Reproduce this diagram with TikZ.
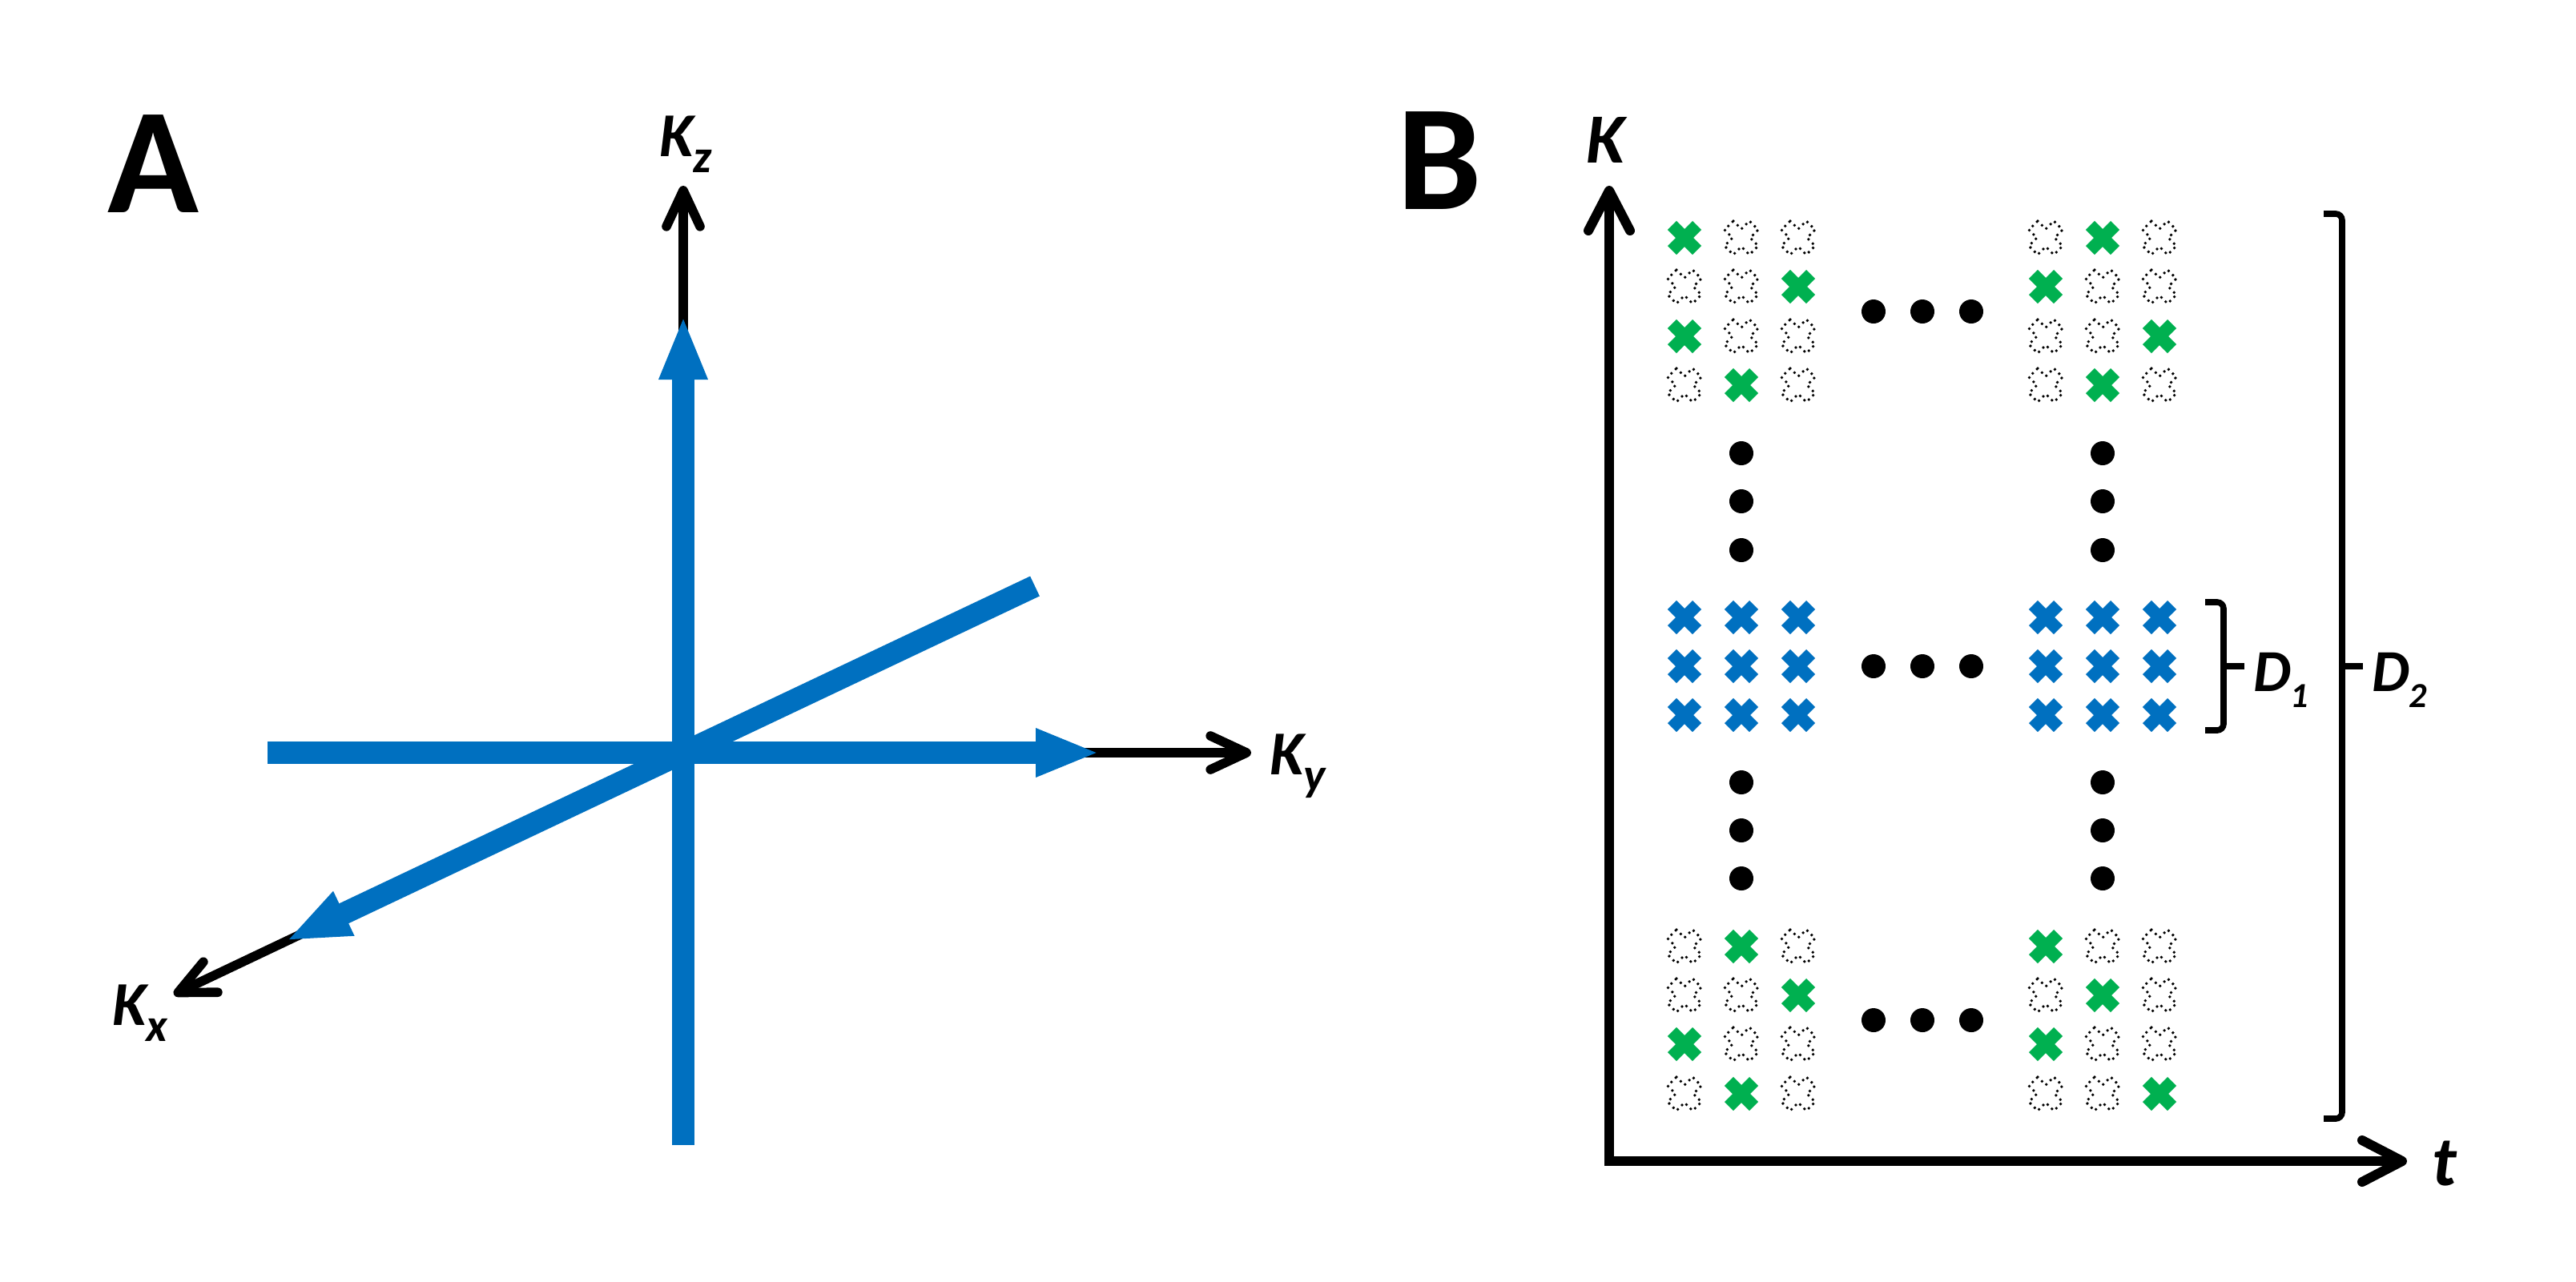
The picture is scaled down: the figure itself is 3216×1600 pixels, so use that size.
\documentclass[tikz,border=0pt]{standalone}
\usepackage{fontspec}
\setmainfont{Carlito}
\usetikzlibrary{arrows.meta}
\definecolor{xblue}{HTML}{0070C0}
\definecolor{xgreen}{HTML}{00B050}
\newcommand\sublabel[4]{{\fontsize{#3}{#3}\selectfont\bfseries\itshape #1}\raisebox{-5pt}{\fontsize{#4}{#4}\selectfont\bfseries\itshape #2}}
\newcommand\crow[5]{%
  \pic[#3] at (#1,#2) {xshape};
  \pic[#4] at ({#1+71},#2) {xshape};
  \pic[#5] at ({#1+142},#2) {xshape};}
\begin{document}
\begin{tikzpicture}[x=0.25pt,y=-0.25pt,
  xshape/.pic={\path[pic actions, rotate=45]
     (1.95pt,5.5pt) -- (1.95pt,1.95pt) -- (5.5pt,1.95pt) -- (5.5pt,-1.95pt)
     -- (1.95pt,-1.95pt) -- (1.95pt,-5.5pt) -- (-1.95pt,-5.5pt) -- (-1.95pt,-1.95pt)
     -- (-5.5pt,-1.95pt) -- (-5.5pt,1.95pt) -- (-1.95pt,1.95pt) -- (-1.95pt,5.5pt) -- cycle;},
  gx/.style={fill=xgreen},
  bx/.style={fill=xblue},
  ox/.style={draw=black, line width=0.95pt, dash pattern=on 0pt off 1.9pt, line cap=round},
  bluearrow/.style={draw=xblue, line width=6.875pt, -{Triangle[length=20pt,width=13.75pt]}},
  blackaxis/.style={draw=black, line width=2.9pt, -{Straight Barb[length=11.25pt,width=10.5pt,round]}},
  baxis/.style={draw=black, line width=3pt, {Straight Barb[length=12.5pt,width=13pt,round]}-{Straight Barb[length=12.5pt,width=13pt,round]}},
  brk/.style={draw=black, line width=1.9pt, rounded corners=2pt},
  lab/.style={inner sep=0pt, outer sep=0pt},
  bigdot/.style={fill=black}
]
\useasboundingbox[fill=white] (0,0) rectangle (3216,1600);

% ---------- Panel A ----------
\node[lab, font=\fontsize{47pt}{47pt}\selectfont\bfseries] (labA) at (191,205) {A};
\coordinate (O) at (853,940);
\coordinate (kzt) at (853,232);
\coordinate (kyt) at (1562,940);
\coordinate (kxt) at (217,1242);
\draw[blackaxis] (O) -- (kzt);
\draw[blackaxis] (O) -- (kyt);
\draw[blackaxis] (O) -- (kxt);

\coordinate (hl) at (334,940);
\coordinate (hr) at (1373,940);
\coordinate (vb) at (853,1430);
\coordinate (vt) at (853,394);
\coordinate (du) at (1292,732);
\coordinate (dl) at (357,1175);
\draw[bluearrow] (hl) -- (hr);
\draw[bluearrow] (vb) -- (vt);
\draw[bluearrow] (du) -- (dl);

\node[lab, anchor=base west] (kzlab) at (823,195) {\sublabel{K}{z}{19.5pt}{14.5pt}};
\node[lab, anchor=base west] (kylab) at (1585,967) {\sublabel{K}{y}{19.5pt}{14.5pt}};
\node[lab, anchor=base west] (kxlab) at (140,1280) {\sublabel{K}{x}{19.5pt}{14.5pt}};

% ---------- Panel B ----------
\node[lab, font=\fontsize{47pt}{47pt}\selectfont\bfseries] (labB) at (1797,201) {B};
\coordinate (BO) at (2009,1450);
\coordinate (Kt) at (2009,232);
\coordinate (tt) at (3005,1450);
\draw[baxis] (Kt) -- (BO) -- (tt);
\node[lab, anchor=base west, font=\fontsize{22pt}{22pt}\selectfont\bfseries\itshape] (Klab) at (1980,203) {K};
\node[lab, anchor=base west, font=\fontsize{22pt}{22pt}\selectfont\bfseries\itshape] (tlab) at (3036,1480) {t};

% top groups
\crow{2103}{297}{gx}{ox}{ox}
\crow{2103}{358}{ox}{ox}{gx}
\crow{2103}{420}{gx}{ox}{ox}
\crow{2103}{481}{ox}{gx}{ox}
\crow{2554}{297}{ox}{gx}{ox}
\crow{2554}{358}{gx}{ox}{ox}
\crow{2554}{420}{ox}{ox}{gx}
\crow{2554}{481}{ox}{gx}{ox}
% middle groups
\foreach \yy in {771,832,893}{
  \crow{2103}{\yy}{bx}{bx}{bx}
  \crow{2554}{\yy}{bx}{bx}{bx}
}
% bottom groups
\crow{2103}{1182}{ox}{gx}{ox}
\crow{2103}{1243}{ox}{ox}{gx}
\crow{2103}{1304}{gx}{ox}{ox}
\crow{2103}{1366}{ox}{gx}{ox}
\crow{2554}{1182}{gx}{ox}{ox}
\crow{2554}{1243}{ox}{gx}{ox}
\crow{2554}{1304}{gx}{ox}{ox}
\crow{2554}{1366}{ox}{ox}{gx}

% dots
\foreach \xx in {2174,2625}{
  \foreach \yy in {566,626,687,977,1037,1097}{
    \fill[bigdot] (\xx,\yy) circle[radius=3.75pt];
  }
}
\foreach \yy in {389,832,1274}{
  \foreach \xx in {2339,2400,2461}{
    \fill[bigdot] (\xx,\yy) circle[radius=3.75pt];
  }
}

% brackets
\coordinate (d1a) at (2753,752);
\coordinate (d1b) at (2776,752);
\coordinate (d1c) at (2776,912);
\coordinate (d1d) at (2753,912);
\coordinate (d1m) at (2776,832);
\coordinate (d1e) at (2802,832);
\draw[brk] (d1a) -- (d1b) -- (d1c) -- (d1d);
\draw[brk] (d1m) -- (d1e);
\node[lab, anchor=base west] (D1lab) at (2813,863) {\sublabel{D}{1}{18.6pt}{11pt}};

\coordinate (d2a) at (2901,267);
\coordinate (d2b) at (2924,267);
\coordinate (d2c) at (2924,1397);
\coordinate (d2d) at (2901,1397);
\coordinate (d2m) at (2924,832);
\coordinate (d2e) at (2950,832);
\draw[brk] (d2a) -- (d2b) -- (d2c) -- (d2d);
\draw[brk] (d2m) -- (d2e);
\node[lab, anchor=base west] (D2lab) at (2961,863) {\sublabel{D}{2}{18.6pt}{11pt}};
\end{tikzpicture}
\end{document}
